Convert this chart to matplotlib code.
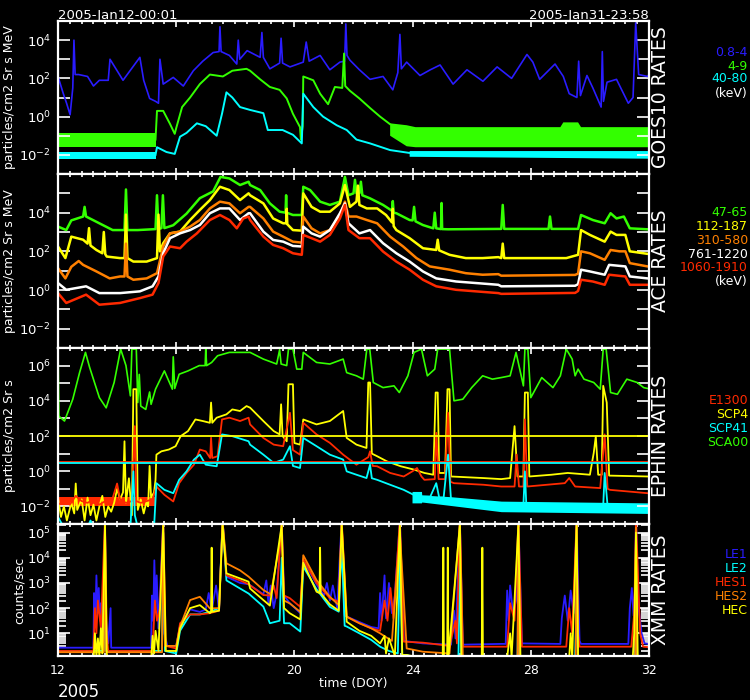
import numpy as np
import matplotlib
matplotlib.use('Agg')
import matplotlib.pyplot as plt
from matplotlib.ticker import FixedLocator, FuncFormatter, MultipleLocator, NullLocator, LogLocator

plt.rcParams['font.family'] = 'DejaVu Sans'
plt.rcParams['mathtext.default'] = 'regular'

# ---- data: (day of year, log10 value) ----
# GOES10 rates
goes_08_4 = [(12.0,2.1),(12.18,1.2),(12.29,0.7),(12.41,0.1),(12.5,1.5),(12.54,4.0),(12.58,2.2),(12.7,2.2),(13.0,2.1),(13.2,1.6),(13.4,1.9),(13.7,1.9),(13.76,3.0),(14.2,1.9),(14.77,3.1),(14.9,1.9),(15.1,0.95),(15.3,0.8),(15.4,0.7),(15.45,3.0),(15.56,1.7),(15.9,2.05),(16.24,1.6),(16.58,2.4),(16.9,2.9),(17.25,3.35),(17.45,3.4),(17.48,4.7),(17.52,3.4),(17.8,3.2),(18.05,2.75),(18.1,4.0),(18.15,3.0),(18.4,3.45),(18.84,3.1),(18.9,4.4),(18.95,3.1),(19.17,2.5),(19.5,2.8),(19.55,4.1),(19.6,2.8),(19.85,2.6),(20.3,2.85),(20.4,3.9),(20.5,2.9),(20.87,3.2),(21.2,2.45),(21.54,2.85),(21.7,2.9),(21.74,4.85),(21.78,3.2),(21.88,2.95),(22.2,2.45),(22.56,1.95),(23.0,2.1),(23.33,1.4),(23.5,2.3),(23.57,4.3),(23.62,2.5),(23.8,2.85),(24.25,2.15),(24.6,2.45),(24.93,2.7),(25.37,1.7),(25.84,2.45),(26.38,1.85),(26.86,2.6),(27.35,2.0),(27.87,3.25),(28.07,2.85),(28.3,1.95),(28.82,2.75),(29.1,2.1),(29.3,1.2),(29.56,1.0),(29.62,2.9),(29.68,1.1),(29.9,2.15),(30.1,1.5),(30.38,0.5),(30.42,3.4),(30.46,0.8),(30.58,1.8),(30.9,1.95),(31.3,0.7),(31.46,1.0),(31.55,4.9),(31.65,2.2),(31.95,2.1),(32.0,2.2)]
goes_4_9 = [(15.3,-1.2),(15.35,0.3),(15.56,0.3),(15.79,-0.38),(15.95,-0.9),(16.0,-0.6),(16.2,0.5),(16.47,1.0),(16.8,1.7),(17.14,2.2),(17.58,2.1),(17.9,2.4),(18.38,2.5),(18.5,2.4),(18.84,1.95),(19.17,1.55),(19.5,1.4),(19.74,0.95),(19.95,0.15),(20.19,-0.55),(20.22,-1.2),(20.28,-0.5),(20.3,2.1),(20.64,1.9),(20.87,1.2),(21.14,0.65),(21.37,1.55),(21.62,1.5),(21.68,3.3),(21.72,1.6),(21.88,1.35),(22.2,0.95),(22.56,0.45),(22.9,0.0),(23.24,-0.4)]
goes_4_9_band = [(12.0,-1.6,-0.85),(15.3,-1.6,-0.85),(15.31,np.nan,np.nan),(23.24,-1.0,-0.35),(23.8,-1.55,-0.45),(24.1,-1.6,-0.55),(29.0,-1.6,-0.55),(29.1,-1.6,-0.3),(29.6,-1.6,-0.3),(29.7,-1.6,-0.55),(32.0,-1.6,-0.55)]
goes_40_80 = [(15.3,-2.0),(15.35,-1.6),(15.67,-1.85),(15.95,-1.95),(16.13,-1.05),(16.35,-0.85),(16.7,-0.35),(17.0,-0.5),(17.37,-1.0),(17.55,0.15),(17.7,1.27),(17.9,1.0),(18.16,0.5),(18.5,0.35),(18.95,0.18),(19.1,-0.7),(19.6,-0.7),(19.95,-0.95),(20.25,-1.4),(20.3,1.2),(20.64,0.5),(20.97,0.0),(21.43,-0.45),(21.77,-0.7),(22.1,-1.2),(22.56,-1.4),(23.24,-1.75),(23.9,-1.9)]
goes_40_80_band = [(12.0,-2.2,-1.85),(15.3,-2.2,-1.85),(15.31,np.nan,np.nan),(23.9,-2.1,-1.8),(32.0,-2.2,-1.8)]

# ACE rates
ace_47_65 = [(12.0,3.28),(12.28,3.1),(12.45,3.6),(12.85,3.8),(12.9,4.3),(12.95,3.8),(13.4,3.45),(13.85,3.1),(14.25,3.1),(14.3,5.2),(14.35,3.1),(14.7,3.1),(15.3,3.15),(15.35,4.9),(15.4,3.15),(15.5,3.2),(15.55,4.9),(15.6,3.2),(15.9,3.35),(16.35,3.95),(16.8,4.75),(17.25,5.1),(17.5,5.85),(17.8,5.77),(18.16,5.43),(18.45,5.6),(18.5,5.43),(18.84,5.17),(19.17,4.48),(19.5,4.05),(19.7,4.0),(19.72,4.9),(19.74,4.0),(19.95,3.88),(20.25,3.88),(20.3,5.34),(20.53,5.17),(20.87,4.57),(21.2,4.4),(21.54,4.57),(21.71,5.85),(21.83,4.9),(22.0,5.0),(22.05,5.7),(22.1,5.0),(22.2,5.0),(22.25,5.6),(22.3,4.9),(22.56,4.74),(23.0,4.4),(23.3,4.1),(23.33,4.6),(23.36,4.0),(23.45,3.97),(23.9,3.62),(24.0,3.6),(24.05,4.3),(24.1,3.55),(24.35,3.36),(24.7,3.19),(24.75,4.0),(24.8,3.19),(24.96,3.15),(24.98,4.5),(25.0,3.15),(25.2,3.14),(27.0,3.16),(27.05,4.4),(27.1,3.16),(28.6,3.16),(28.65,3.8),(28.7,3.16),(29.6,3.16),(29.7,3.88),(30.1,3.62),(30.5,3.45),(30.7,3.97),(30.9,3.7),(31.15,3.8),(31.35,3.19),(31.95,3.14),(32.0,3.14)]
ace_112_187 = [(12.0,2.25),(12.25,1.65),(12.45,2.76),(12.85,2.6),(13.0,2.4),(13.05,3.2),(13.1,2.3),(13.3,2.07),(13.5,1.9),(13.55,3.0),(13.6,1.85),(13.65,1.73),(14.1,1.65),(14.25,1.65),(14.3,3.9),(14.35,1.65),(14.55,1.47),(15.0,1.47),(15.35,1.65),(15.4,3.9),(15.45,2.0),(15.56,2.42),(15.79,2.93),(16.13,3.02),(16.47,3.62),(16.8,4.14),(17.14,4.65),(17.48,5.34),(17.8,5.17),(18.16,4.65),(18.45,5.0),(18.5,4.9),(18.95,4.48),(19.28,3.7),(19.62,3.45),(19.72,3.45),(19.74,4.2),(19.76,3.4),(19.95,3.1),(20.25,3.07),(20.3,5.0),(20.58,4.3),(20.87,4.05),(21.2,4.05),(21.54,4.48),(21.71,5.43),(21.88,4.3),(22.1,4.57),(22.15,5.4),(22.2,4.4),(22.45,4.22),(22.8,4.22),(23.1,3.88),(23.3,3.5),(23.33,4.2),(23.36,3.3),(23.45,3.1),(23.9,2.68),(24.35,2.16),(24.8,2.07),(24.85,2.6),(24.9,2.05),(25.25,1.82),(25.8,1.65),(26.37,1.65),(26.9,1.7),(27.0,1.65),(27.05,2.4),(27.1,1.65),(29.2,1.65),(29.6,1.82),(29.7,3.1),(30.0,2.85),(30.5,2.5),(30.7,3.02),(30.9,2.85),(31.2,2.85),(31.35,2.0),(31.95,1.87),(32.0,1.87)]
ace_310_580 = [(12.0,1.13),(12.25,0.6),(12.45,1.2),(12.7,1.5),(12.85,1.3),(13.3,0.96),(13.75,0.6),(14.1,0.7),(14.25,0.7),(14.3,2.4),(14.35,0.7),(14.55,0.53),(15.0,0.6),(15.35,0.87),(15.56,2.25),(15.79,2.93),(16.13,3.02),(16.47,3.28),(16.8,3.62),(17.14,4.22),(17.48,4.57),(17.8,4.48),(18.16,3.97),(18.45,4.3),(18.5,4.3),(18.95,3.7),(19.28,3.02),(19.62,2.76),(19.95,2.5),(20.25,2.45),(20.3,3.8),(20.58,3.19),(20.87,2.93),(21.2,3.1),(21.54,3.88),(21.71,4.57),(21.83,3.8),(22.1,3.8),(22.45,3.62),(22.8,3.45),(23.24,2.76),(23.68,2.25),(24.13,1.65),(24.58,1.22),(25.25,1.05),(25.8,0.87),(26.37,0.79),(26.9,0.82),(27.0,0.74),(29.5,0.78),(29.6,0.85),(29.7,2.0),(30.0,1.9),(30.5,1.56),(30.7,2.07),(31.0,2.0),(31.2,2.0),(31.35,1.39),(31.95,1.22),(32.0,1.22)]
ace_761_1220 = [(12.0,0.36),(12.28,0.01),(12.95,0.19),(13.4,-0.16),(14.1,-0.16),(14.77,-0.07),(15.2,0.19),(15.4,0.7),(15.56,1.9),(15.79,2.68),(16.13,2.93),(16.47,3.1),(16.8,3.36),(17.14,3.97),(17.48,4.22),(17.8,4.22),(18.16,3.62),(18.45,3.97),(18.5,3.97),(18.95,3.02),(19.28,2.59),(19.62,2.5),(19.95,2.28),(20.25,2.25),(20.3,3.28),(20.58,2.93),(20.87,2.76),(21.2,3.1),(21.54,3.97),(21.71,4.48),(21.83,3.45),(22.2,2.93),(22.56,3.1),(23.0,2.42),(23.45,1.9),(23.9,1.47),(24.35,0.96),(24.8,0.6),(25.47,0.44),(26.14,0.36),(26.9,0.27),(27.0,0.19),(29.5,0.22),(29.6,0.3),(29.7,1.05),(30.0,0.96),(30.5,0.79),(30.65,1.3),(31.2,1.22),(31.35,0.7),(31.95,0.6),(32.0,0.6)]
ace_1060_1910 = [(12.0,-0.16),(12.28,-0.67),(12.95,-0.24),(13.4,-0.76),(14.1,-0.67),(14.77,-0.42),(15.2,-0.24),(15.4,0.36),(15.56,1.73),(15.79,2.25),(16.13,2.16),(16.35,2.5),(16.7,2.93),(17.14,3.62),(17.48,3.88),(17.8,3.62),(18.05,3.19),(18.27,3.7),(18.45,3.8),(18.5,3.62),(18.95,2.76),(19.28,2.33),(19.62,2.16),(19.95,1.9),(20.25,1.82),(20.3,2.85),(20.58,2.68),(20.87,2.5),(21.2,2.85),(21.54,3.7),(21.71,4.4),(21.83,3.1),(22.2,2.68),(22.56,2.68),(23.0,1.99),(23.45,1.47),(23.9,1.05),(24.35,0.53),(24.8,0.19),(25.47,0.01),(26.14,-0.07),(26.9,-0.16),(27.0,-0.2),(29.5,-0.15),(29.6,-0.05),(29.7,0.53),(30.1,0.44),(30.5,0.27),(30.65,0.79),(31.2,0.7),(31.35,0.27),(31.95,0.27),(32.0,0.27)]

# EPHIN rates
eph_sca00 = [(12.0,6.94),(12.03,3.13),(12.22,2.85),(12.5,4.09),(12.73,5.6),(12.93,6.75),(13.07,5.9),(13.4,4.18),(13.63,3.6),(13.9,5.04),(14.12,6.94),(14.3,6.0),(14.45,4.28),(14.5,6.94),(14.65,6.94),(14.7,3.9),(14.75,5.5),(14.8,3.7),(14.97,3.51),(15.1,4.5),(15.15,3.8),(15.3,4.66),(15.6,5.7),(15.87,4.66),(15.9,6.5),(15.95,4.7),(16.1,5.51),(16.4,5.7),(16.78,6.0),(16.98,6.0),(17.0,6.94),(17.03,6.0),(17.2,6.18),(17.4,6.56),(17.8,6.75),(18.5,6.75),(18.95,6.37),(19.4,6.09),(19.5,6.9),(19.55,6.09),(19.74,6.0),(19.8,6.94),(19.95,6.94),(20.08,5.8),(20.25,5.8),(20.3,6.75),(20.75,6.18),(21.2,6.09),(21.65,6.37),(21.77,5.6),(22.1,5.42),(22.33,5.23),(22.45,6.94),(22.55,6.94),(22.67,5.04),(23.0,4.75),(23.37,4.85),(23.55,4.47),(23.84,5.42),(24.05,6.75),(24.3,6.94),(24.5,5.42),(24.75,5.8),(24.85,6.94),(25.25,6.94),(25.4,4.0),(25.7,4.09),(26.0,4.75),(26.37,5.42),(26.7,5.23),(27.0,5.32),(27.3,5.42),(27.5,6.75),(27.75,4.85),(27.8,6.94),(27.9,6.94),(28.0,4.18),(28.37,5.32),(28.75,4.75),(29.0,5.42),(29.2,6.94),(29.4,6.37),(29.5,5.42),(29.6,5.8),(29.8,5.23),(30.13,5.04),(30.35,4.66),(30.45,6.94),(30.55,6.94),(30.7,4.47),(30.93,4.37),(31.25,5.23),(31.6,5.04),(31.82,4.75),(31.95,4.7),(32.0,4.7)]
eph_scp4 = [(12.0,-1.5),(12.1,-2.6),(12.2,-2.0),(12.3,-2.8),(12.45,-1.8),(12.55,-2.4),(12.6,-0.7),(12.65,-2.2),(12.8,-1.6),(12.9,-2.8),(13.0,-1.5),(13.1,-2.5),(13.2,-1.9),(13.3,-2.8),(13.4,-2.0),(13.5,-1.4),(13.6,-2.6),(13.7,-2.0),(13.8,-2.3),(13.9,-1.8),(14.0,-1.0),(14.1,-1.6),(14.2,-1.2),(14.25,1.7),(14.3,-1.8),(14.4,-0.4),(14.5,-2.5),(14.55,4.66),(14.65,4.66),(14.7,-2.2),(14.8,-1.6),(14.9,-2.4),(15.0,-1.7),(15.05,-2.0),(15.1,0.3),(15.15,-1.5),(15.25,-1.2),(15.3,-0.5),(15.33,0.94),(15.5,1.13),(15.75,1.23),(15.98,1.42),(16.15,1.99),(16.4,2.28),(16.65,2.94),(16.9,2.85),(17.14,2.75),(17.18,3.9),(17.22,2.75),(17.37,3.04),(17.7,3.23),(17.9,3.51),(18.16,3.42),(18.38,3.7),(18.5,3.61),(18.95,2.85),(19.3,2.28),(19.5,2.09),(19.55,3.8),(19.6,2.0),(19.74,1.7),(19.8,4.94),(19.95,4.94),(20.0,1.6),(20.19,1.51),(20.3,2.94),(20.75,2.66),(21.2,2.85),(21.65,3.42),(21.77,1.89),(22.1,1.51),(22.44,1.32),(22.5,5.04),(22.56,5.04),(22.62,1.0),(22.8,0.85),(23.13,0.56),(23.6,0.28),(24.05,0.09),(24.4,-0.1),(24.7,-0.2),(24.78,4.47),(24.85,4.47),(24.9,-0.1),(25.1,-0.1),(25.18,4.66),(25.25,4.66),(25.3,-0.3),(26.4,-0.39),(27.0,-0.45),(27.3,-0.39),(27.45,2.56),(27.55,-0.3),(27.75,-0.3),(27.8,4.47),(27.9,4.47),(27.95,-0.3),(28.7,-0.2),(29.25,-0.1),(30.0,-0.2),(30.13,1.04),(30.2,1.99),(30.28,-0.2),(30.4,-0.2),(30.45,4.85),(30.57,3.9),(30.65,-0.25),(31.95,-0.3),(32.0,-0.3)]
eph_e1300 = [(12.0,-1.9),(12.2,-1.7),(12.4,-1.9),(12.6,-1.4),(12.8,-1.7),(13.0,-1.8),(13.2,-1.6),(13.4,-1.9),(13.6,-1.7),(13.8,-1.8),(14.0,-0.7),(14.1,-1.6),(14.3,-1.8),(14.5,-1.7),(14.6,2.56),(14.65,-1.7),(14.8,-1.8),(15.0,-1.7),(15.2,-1.6),(15.33,-0.87),(15.6,-1.34),(15.9,-1.72),(16.1,-0.68),(16.35,-0.1),(16.6,0.37),(16.8,1.23),(17.0,1.13),(17.15,0.75),(17.18,1.9),(17.22,0.75),(17.4,0.85),(17.55,2.94),(17.8,3.04),(18.16,2.85),(18.45,3.04),(18.5,2.66),(18.95,1.89),(19.3,1.51),(19.62,1.42),(19.85,3.32),(19.95,1.2),(20.19,0.94),(20.3,2.75),(20.75,2.09),(21.2,1.61),(21.65,0.94),(22.1,0.37),(22.5,0.8),(22.56,1.13),(22.65,0.3),(22.8,0.28),(23.24,-0.1),(23.7,-0.3),(24.0,0.0),(24.15,0.18),(24.3,-0.3),(24.4,-0.49),(24.75,-0.45),(24.8,2.18),(24.88,-0.45),(25.1,-0.45),(25.2,3.32),(25.28,-0.6),(25.4,-0.68),(26.4,-0.77),(27.0,-0.87),(27.45,-0.87),(27.52,0.94),(27.6,-0.87),(27.75,-0.87),(27.8,2.94),(27.88,-0.87),(29.15,-0.68),(29.3,-0.39),(29.5,-0.87),(30.35,-0.96),(30.5,2.09),(30.6,-1.0),(30.68,-1.06),(31.95,-1.25),(32.0,-1.25)]
eph_e1300_band = [(12.0,-2.0,-1.45),(15.3,-2.0,-1.45)]
eph_scp41 = [(12.0,-2.6),(12.1,-2.9),(12.2,-3.2),(13.0,-3.2),(13.1,-2.8),(13.2,-3.2),(14.45,-3.2),(14.55,-0.01),(14.6,-2.5),(14.7,-3.2),(15.25,-3.2),(15.33,-0.68),(15.6,-1.06),(15.9,-1.25),(16.1,-0.49),(16.35,-0.01),(16.6,0.66),(16.8,0.94),(17.0,0.37),(17.37,0.28),(17.55,2.09),(17.9,1.99),(18.45,1.7),(18.5,1.51),(18.95,0.94),(19.3,0.47),(19.62,0.66),(19.85,1.42),(19.95,0.3),(20.19,0.18),(20.3,1.89),(20.75,1.42),(21.2,0.94),(21.65,0.66),(21.77,-0.01),(22.1,-0.2),(22.44,-0.39),(22.56,0.37),(22.62,-0.4),(22.8,-0.49),(23.24,-0.77),(23.7,-1.06),(24.15,-1.44),(24.6,-1.44),(24.8,-0.68),(24.9,-1.5),(25.05,-1.5),(25.2,0.94),(25.3,-1.63),(26.4,-1.82),(27.0,-1.91),(27.75,-1.9),(27.8,-0.01),(27.85,-2.0),(30.45,-2.0),(30.5,-0.1),(30.6,-2.0),(31.95,-2.2),(32.0,-2.2)]
eph_scp41_band = [(23.98,-1.8,-1.15),(24.3,-1.8,-1.15),(24.31,-1.75,-1.35),(25.3,-1.95,-1.45),(27.0,-2.3,-1.7),(32.0,-2.4,-1.8)]
eph_limits = [2.0, 0.52, 0.47]   # yellow, red, cyan reference lines

# XMM rates
xmm_le1 = [(12.0,0.43),(13.2,0.43),(13.22,2.6),(13.26,1.4),(13.3,3.3),(13.34,1.8),(13.38,2.8),(13.42,1.5),(13.46,2.2),(13.5,0.8),(13.59,5.5),(13.63,1.5),(13.7,0.6),(13.78,2.0),(13.8,0.43),(15.15,0.43),(15.18,2.5),(15.22,1.5),(15.26,3.9),(15.3,2.0),(15.34,3.3),(15.4,1.2),(15.56,5.5),(15.6,1.0),(15.7,0.5),(16.0,0.5),(16.13,1.3),(16.47,1.95),(16.8,1.85),(17.0,1.95),(17.1,2.6),(17.2,1.9),(17.35,2.9),(17.45,1.9),(17.57,5.5),(17.7,3.25),(18.16,3.0),(18.45,2.95),(18.95,2.55),(19.05,3.1),(19.12,2.2),(19.2,2.9),(19.3,2.0),(19.4,2.6),(19.57,5.5),(19.65,2.5),(19.84,2.2),(20.2,1.8),(20.3,3.9),(20.75,2.95),(21.0,2.5),(21.1,3.0),(21.2,2.3),(21.3,2.9),(21.45,2.0),(21.6,5.5),(21.7,1.7),(22.2,1.45),(22.6,1.25),(22.85,1.2),(22.9,2.6),(22.95,1.5),(23.05,3.3),(23.1,1.6),(23.2,3.0),(23.3,1.8),(23.4,2.5),(23.57,5.5),(23.7,0.7),(24.35,0.6),(25.3,0.55),(25.4,1.9),(25.45,0.8),(25.5,2.2),(25.6,5.5),(25.7,0.55),(27.0,0.58),(27.15,0.58),(27.2,2.7),(27.25,1.5),(27.3,2.9),(27.4,1.8),(27.5,2.3),(27.58,5.5),(27.7,0.6),(29.0,0.58),(29.05,1.6),(29.15,2.5),(29.25,1.5),(29.35,2.7),(29.45,1.8),(29.55,5.5),(29.65,0.7),(29.7,0.58),(31.3,0.58),(31.35,2.0),(31.42,2.8),(31.48,1.7),(31.52,2.7),(31.56,5.5),(31.65,2.0),(31.75,1.0),(31.85,0.6),(32.0,0.58)]
xmm_le2 = [(12.0,0.3),(13.55,0.3),(13.59,5.0),(13.63,0.3),(15.52,0.3),(15.56,5.0),(15.62,0.3),(16.0,0.2),(16.13,1.1),(16.47,1.75),(16.8,1.75),(17.14,1.85),(17.45,2.0),(17.57,5.5),(17.7,3.1),(18.16,2.78),(18.45,2.58),(18.95,2.06),(19.17,1.4),(19.5,1.5),(19.57,4.0),(19.65,1.4),(19.84,1.4),(20.2,1.07),(20.3,3.65),(20.75,2.75),(21.2,2.05),(21.5,1.86),(21.6,4.5),(21.7,1.3),(21.77,1.27),(22.2,1.0),(22.6,0.74),(22.9,0.47),(23.2,0.3),(23.5,0.2),(23.57,4.0),(23.65,0.14),(23.8,0.14),(24.2,0.0),(25.55,0.0),(25.6,4.0),(25.65,0.0),(27.55,0.0),(27.58,3.5),(27.62,0.0),(29.5,0.0),(29.55,2.5),(29.6,0.0),(31.52,0.0),(31.56,4.5),(31.6,0.0),(32.0,0.0)]
xmm_hes1 = [(12.0,0.3),(13.2,0.3),(13.25,2.0),(13.3,1.0),(13.35,2.3),(13.45,1.2),(13.59,5.5),(13.65,1.0),(13.7,0.3),(15.2,0.3),(15.28,2.3),(15.35,1.5),(15.45,2.0),(15.56,5.5),(15.65,0.5),(16.0,0.4),(16.13,1.4),(16.47,1.75),(16.8,1.75),(17.14,1.8),(17.45,1.9),(17.57,5.5),(17.7,3.3),(18.16,3.1),(18.45,2.95),(18.95,2.52),(19.2,2.5),(19.3,2.9),(19.4,2.4),(19.57,5.5),(19.65,2.5),(19.84,2.4),(20.2,2.05),(20.3,3.95),(20.75,3.0),(21.2,2.4),(21.5,2.25),(21.6,5.5),(21.77,1.66),(22.2,1.4),(22.6,1.2),(22.9,1.1),(23.05,2.3),(23.15,1.5),(23.25,2.8),(23.35,1.6),(23.57,5.5),(23.7,0.67),(24.35,0.63),(25.25,0.5),(25.45,1.5),(25.5,0.6),(25.6,5.5),(25.7,0.47),(27.2,0.47),(27.3,2.2),(27.45,1.5),(27.58,5.5),(27.7,0.47),(29.2,0.47),(29.3,2.0),(29.4,1.0),(29.55,5.5),(29.6,1.0),(29.65,0.47),(31.4,0.47),(31.5,1.8),(31.56,5.5),(31.7,1.0),(31.8,0.47),(32.0,0.45)]
xmm_hes2 = [(12.0,0.25),(13.55,0.25),(13.59,5.4),(13.63,0.25),(15.52,0.25),(15.56,5.0),(15.62,0.5),(16.0,0.5),(16.13,1.27),(16.47,2.32),(16.8,2.45),(17.14,1.99),(17.45,2.0),(17.57,5.4),(17.7,3.78),(18.16,3.5),(18.45,3.25),(18.95,2.72),(19.2,2.55),(19.57,5.0),(19.65,2.3),(19.84,2.19),(20.2,1.85),(20.3,4.1),(20.75,3.11),(21.2,2.45),(21.5,2.12),(21.6,5.4),(21.77,1.66),(22.2,1.4),(22.6,1.2),(22.9,1.0),(23.3,0.7),(23.57,5.0),(23.8,0.4),(24.35,0.27),(25.25,0.2),(25.6,5.4),(25.7,0.1),(26.0,0.05),(27.55,0.05),(27.58,5.4),(27.62,0.05),(29.52,0.05),(29.55,5.4),(29.6,0.05),(31.53,0.05),(31.56,5.2),(31.6,0.05),(32.0,0.05)]
xmm_hec = [(12.0,-0.1),(13.2,-0.1),(13.25,1.0),(13.3,0.1),(13.35,0.8),(13.4,0.1),(13.45,1.2),(13.5,0.2),(13.59,5.3),(13.65,0.2),(13.7,-0.1),(15.15,-0.1),(15.2,0.9),(15.25,0.2),(15.3,1.1),(15.4,0.3),(15.56,5.3),(15.65,0.3),(16.0,0.3),(16.13,1.2),(16.47,2.0),(16.8,2.12),(17.14,1.8),(17.18,1.85),(17.2,4.4),(17.22,1.85),(17.45,1.9),(17.57,5.3),(17.7,3.38),(18.16,3.18),(18.45,3.05),(18.5,2.78),(18.95,2.32),(19.17,2.1),(19.57,5.3),(19.65,2.0),(19.84,1.8),(20.2,1.55),(20.3,3.8),(20.75,2.65),(20.85,2.6),(20.87,4.4),(20.89,2.6),(21.2,2.15),(21.5,1.9),(21.6,5.3),(21.77,1.46),(22.2,1.1),(22.6,0.9),(22.9,0.6),(23.05,0.9),(23.1,0.2),(23.2,0.8),(23.4,0.1),(23.57,5.3),(23.65,0.14),(23.8,0.14),(24.2,0.05),(25.02,0.05),(25.04,4.4),(25.06,0.05),(25.17,0.05),(25.19,4.4),(25.21,0.05),(25.6,5.3),(25.65,0.05),(26.34,0.05),(26.36,4.4),(26.38,0.05),(27.2,0.05),(27.3,1.0),(27.35,0.05),(27.58,5.3),(27.65,0.05),(29.3,0.05),(29.35,1.0),(29.4,0.05),(29.55,5.3),(29.6,0.05),(31.45,0.05),(31.5,1.0),(31.56,5.0),(31.62,0.05),(32.0,0.05)]

# colours
BLUE = '#2a1cff'
GREEN = '#33ff00'
CYAN = '#00ffff'
YELLOW = '#ffff00'
ORANGE = '#ff8000'
RED = '#ff2a00'
WHITE = '#ffffff'


def xy(pts):
    d, v = np.array(pts, dtype=float).T
    return d, 10.0 ** v


def band(pts):
    d, lo, hi = np.array(pts, dtype=float).T
    return d, 10.0 ** lo, 10.0 ** hi


def style(ax, lo, hi, labelled, minor=False):
    ax.set_facecolor('black')
    ax.set_yscale('log')
    ax.set_xlim(12, 32)
    ax.set_ylim(10.0 ** lo, 10.0 ** hi)
    for s in ax.spines.values():
        s.set_color('white')
        s.set_linewidth(1.6)
    ax.xaxis.set_major_locator(MultipleLocator(4))
    ax.xaxis.set_minor_locator(MultipleLocator(0.4))
    ax.tick_params(axis='x', which='major', direction='in', length=4, width=1.2,
                   top=True, bottom=True, colors='white', labelsize=9, pad=6)
    ax.tick_params(axis='x', which='minor', direction='in', length=2.5, width=1.2,
                   top=True, bottom=True, colors='white')
    exps = list(range(int(np.floor(lo)), int(np.ceil(hi)) + 1))
    ax.yaxis.set_major_locator(FixedLocator([10.0 ** e for e in exps]))
    ax.yaxis.set_major_formatter(FuncFormatter(
        lambda v, p: '$10^{%d}$' % round(np.log10(v)) if round(np.log10(v)) in labelled else ''))
    if minor:
        ax.yaxis.set_minor_locator(LogLocator(base=10, subs=np.arange(2, 10)))
    else:
        ax.yaxis.set_minor_locator(NullLocator())
    ax.yaxis.set_minor_formatter(FuncFormatter(lambda v, p: ''))
    ax.tick_params(axis='y', which='major', direction='in', length=8.5, width=1.2,
                   left=True, right=True, colors='white', labelsize=9.5, pad=5)
    ax.tick_params(axis='y', which='minor', direction='in', length=5.5, width=1.2,
                   left=True, right=True, colors='white')


W, H = 750, 700
fig = plt.figure(figsize=(W / 100, H / 100), dpi=100, facecolor='black')
left, right = 58, 649


def panel(top, bottom):
    return fig.add_axes([left / W, 1 - bottom / H, (right - left) / W, (bottom - top) / H])


ax1 = panel(21, 174)
ax2 = panel(174, 348)
ax3 = panel(348, 524)
ax4 = panel(524, 656)

# GOES panel
d, lo, hi = band(goes_4_9_band)
ax1.fill_between(d, lo, hi, color=GREEN, lw=0)
d, lo, hi = band(goes_40_80_band)
ax1.fill_between(d, lo, hi, color=CYAN, lw=0)
ax1.plot(*xy(goes_08_4), color=BLUE, lw=1.2)
ax1.plot(*xy(goes_4_9), color=GREEN, lw=1.4)
ax1.plot(*xy(goes_40_80), color=CYAN, lw=1.4)
style(ax1, -3, 5, [-2, 0, 2, 4])

# ACE panel
for pts, c in [(ace_47_65, GREEN), (ace_112_187, YELLOW), (ace_310_580, ORANGE),
               (ace_761_1220, WHITE), (ace_1060_1910, RED)]:
    ax2.plot(*xy(pts), color=c, lw=1.8)
style(ax2, -3, 6, [-2, 0, 2, 4])

# EPHIN panel
ax3.plot(*xy(eph_sca00), color=GREEN, lw=1.2)
ax3.plot(*xy(eph_scp4), color=YELLOW, lw=1.3)
d, lo, hi = band(eph_e1300_band)
ax3.fill_between(d, lo, hi, color=RED, lw=0)
ax3.plot(*xy(eph_e1300), color=RED, lw=1.3)
d, lo, hi = band(eph_scp41_band)
ax3.fill_between(d, lo, hi, color=CYAN, lw=0)
ax3.plot(*xy(eph_scp41), color=CYAN, lw=1.3)
for v, c in zip(eph_limits, [YELLOW, RED, CYAN]):
    ax3.axhline(10.0 ** v, color=c, lw=1.3)
style(ax3, -3, 7, [-2, 0, 2, 4, 6])

# XMM panel
for pts, c in [(xmm_le1, BLUE), (xmm_le2, CYAN), (xmm_hes1, RED), (xmm_hes2, ORANGE), (xmm_hec, YELLOW)]:
    ax4.plot(*xy(pts), color=c, lw=1.3)
style(ax4, 0.1, 5.34, [1, 2, 3, 4, 5], minor=True)

for ax in (ax1, ax2, ax3):
    ax.tick_params(axis='x', labelbottom=False)
ax4.set_xticks([12, 16, 20, 24, 28, 32])
ax4.set_xticklabels(['12', '16', '20', '24', '28', '32'])

# side titles
for ax, name in [(ax1, 'GOES10 RATES'), (ax2, 'ACE RATES'), (ax3, 'EPHIN RATES'), (ax4, 'XMM RATES')]:
    ax.text(1.004, 0.5, name, transform=ax.transAxes, rotation=90, ha='left', va='center',
            color='white', fontsize=13.5)

# legends
legend_rows = [
    [('0.8-4', BLUE, 52), ('4-9', GREEN, 66), ('40-80', CYAN, 79), ('(keV)', WHITE, 93)],
    [('47-65', GREEN, 212), ('112-187', YELLOW, 226), ('310-580', ORANGE, 240),
     ('761-1220', WHITE, 254), ('1060-1910', RED, 268), ('(keV)', WHITE, 282)],
    [('E1300', RED, 401), ('SCP4', YELLOW, 415), ('SCP41', CYAN, 429), ('SCA00', GREEN, 443)],
    [('LE1', BLUE, 554), ('LE2', CYAN, 569), ('HES1', RED, 583), ('HES2', ORANGE, 597), ('HEC', YELLOW, 611)],
]
for rows in legend_rows:
    for txt, c, y in rows:
        fig.text(748 / W, 1 - y / H, txt, color=c, ha='right', va='center', fontsize=9)

# y labels
for txt, x, y in [('particles/cm2 Sr s MeV', 10, 97), ('particles/cm2 Sr s MeV', 10, 261),
                  ('particles/cm2 Sr s', 10, 436), ('counts/sec', 19, 590)]:
    fig.text(x / W, 1 - y / H, txt, color='white', rotation=90, ha='center', va='center', fontsize=9)

fig.text(left / W, 1 - 15 / H, '2005-Jan12-00:01', color='white', ha='left', va='center', fontsize=9.5)
fig.text(right / W, 1 - 15 / H, '2005-Jan31-23:58', color='white', ha='right', va='center', fontsize=9.5)
fig.text((left + right) / 2 / W, 1 - 683 / H, 'time (DOY)', color='white', ha='center', va='center', fontsize=9)
fig.text(left / W, 1 - 692 / H, '2005', color='white', ha='left', va='center', fontsize=12)

fig.savefig('out.png', dpi=100, facecolor='black')
